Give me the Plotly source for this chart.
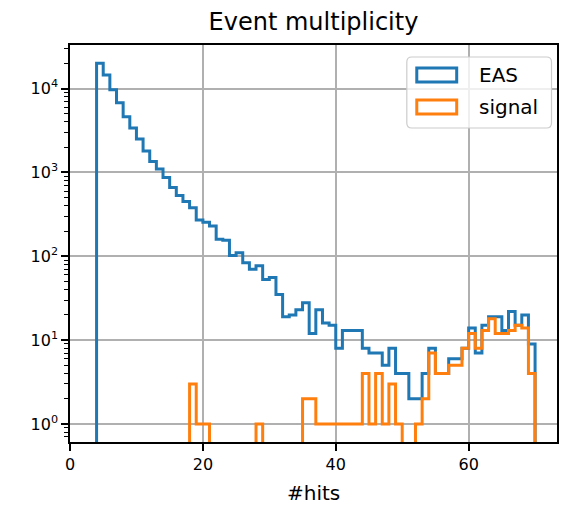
import plotly.graph_objects as go

# ---------------- data ----------------
bin_left = list(range(4, 70))          # histogram bins [k, k+1), k = 4..69
bin_width = 1

eas = [20000, 14500, 9700, 6800, 4600, 3400, 2500, 1800, 1350, 1100,   # 4-13
       870, 660, 530, 450, 380, 270, 255, 230, 160, 155,               # 14-23
       102, 110, 84, 70, 77, 53, 56, 35, 19, 20,                        # 24-33
       23, 28, 12, 23, 16, 15, 8, 13, 13, 13,                           # 34-43
       8, 7, 7, 5, 8, 4, 4, 2, 2, 4,                                    # 44-53
       8, 4, 4, 6, 6, 8, 14, 7, 15, 19,                                 # 54-63
       19, 13, 22, 15, 20, 9]                                           # 64-69

signal = [0, 0, 0, 0, 0, 0, 0, 0, 0, 0,        # 4-13
          0, 0, 0, 0, 3, 1, 1, 0, 0, 0,        # 14-23
          0, 0, 0, 0, 1, 0, 0, 0, 0, 0,        # 24-33
          0, 2, 2, 1, 1, 1, 1, 1, 1, 1,        # 34-43
          4, 1, 4, 1, 3, 1, 0, 0, 1, 2,        # 44-53
          7, 4, 4, 5, 5, 8, 12, 8, 13, 18,     # 54-63
          12, 12, 13, 15, 14, 4]               # 64-69

series_names = ["EAS", "signal"]
series_colors = ["#1f77b4", "#ff7f0e"]

x_ticks = [0, 20, 40, 60]
y_tick_vals = [1, 10, 100, 1000, 10000]
y_tick_text = ["10<sup>0</sup>", "10<sup>1</sup>", "10<sup>2</sup>", "10<sup>3</sup>", "10<sup>4</sup>"]

title_text = "Event multiplicity"
xlabel_text = "#hits"

# ---------------- layout geometry (pixels) ----------------
W, H = 563, 511
L, R, T, B = 69.5, 5.5, 45, 69
PW = W - L - R
PH = H - T - B
FLOOR = 1e-3  # empty bins drop below the axis


def px2paper(px, py):
    return (px - L) / PW, (H - B - py) / PH


def step_xy(lefts, width, vals):
    xs = [lefts[0]]
    ys = [FLOOR]
    for l, v in zip(lefts, vals):
        xs.append(l)
        ys.append(v if v > 0 else FLOOR)
    last = vals[-1] if vals[-1] > 0 else FLOOR
    xs += [lefts[-1] + width, lefts[-1] + width]
    ys += [last, FLOOR]
    return xs, ys


fig = go.Figure()
for name, vals, col in zip(series_names, [eas, signal], series_colors):
    xs, ys = step_xy(bin_left, bin_width, vals)
    fig.add_trace(go.Scatter(x=xs, y=ys, mode="lines", name=name,
                             line=dict(color=col, width=3, shape="hv"),
                             showlegend=False, hoverinfo="skip"))

minor_vals = [m * 10 ** e for e in range(-1, 5) for m in range(2, 10)]

font_family = "DejaVu Sans"
fig.update_layout(
    width=W, height=H,
    margin=dict(l=L, r=R, t=T, b=B, pad=0),
    paper_bgcolor="white", plot_bgcolor="white",
    font=dict(family=font_family, size=16, color="black"),
    title=dict(text=title_text, x=0.5, xref="paper", xanchor="center",
               y=1 - 22 / H, yref="container", yanchor="middle",
               font=dict(size=24, family=font_family, color="black")),
    xaxis=dict(range=[0, 73.3], tickvals=x_ticks, ticks="outside", ticklen=7,
               tickwidth=1.6, tickcolor="black", showgrid=True, gridcolor="#b0b0b0",
               gridwidth=1.6, showline=True, linecolor="black", linewidth=1.6,
               mirror=True, zeroline=False, tickfont=dict(size=16), automargin=False),
    yaxis=dict(type="log", range=[-0.215, 4.52], tickvals=y_tick_vals,
               ticktext=y_tick_text, ticks="outside", ticklen=7, tickwidth=1.6,
               tickcolor="black", showgrid=True, gridcolor="#b0b0b0", gridwidth=1.6,
               showline=True, linecolor="black", linewidth=1.6, mirror=True,
               zeroline=False, tickfont=dict(size=16), automargin=False,
               minor=dict(tickvals=minor_vals, ticks="outside", ticklen=4,
                          tickwidth=1.2, tickcolor="black", showgrid=False)),
)

# x-axis label
lx, ly = px2paper(0, 493)
fig.add_annotation(text=xlabel_text, xref="paper", yref="paper", x=0.5, y=ly,
                   xanchor="center", yanchor="middle", showarrow=False,
                   font=dict(size=20, family=font_family, color="black"))

# legend (matplotlib style, drawn manually)
bx0, by0, bx1, by1 = 407, 57, 552, 128
r = 5


def rounded_path(x0, y0, x1, y1, rad):
    def P(x, y):
        a, b = px2paper(x, y)
        return f"{a:.5f},{b:.5f}"
    return (f"M {P(x0 + rad, y0)} L {P(x1 - rad, y0)} Q {P(x1, y0)} {P(x1, y0 + rad)} "
            f"L {P(x1, y1 - rad)} Q {P(x1, y1)} {P(x1 - rad, y1)} "
            f"L {P(x0 + rad, y1)} Q {P(x0, y1)} {P(x0, y1 - rad)} "
            f"L {P(x0, y0 + rad)} Q {P(x0, y0)} {P(x0 + rad, y0)} Z")


fig.add_shape(type="path", xref="paper", yref="paper",
              path=rounded_path(bx0, by0, bx1, by1, r),
              line=dict(color="#cccccc", width=1.2),
              fillcolor="rgba(255,255,255,0.8)", layer="above")

for i, (name, col) in enumerate(zip(series_names, series_colors)):
    cy = 75 + i * 32
    x0, y0 = px2paper(417, cy - 7)
    x1, y1 = px2paper(457, cy + 7)
    fig.add_shape(type="rect", xref="paper", yref="paper", x0=x0, y0=y0, x1=x1, y1=y1,
                  line=dict(color=col, width=3), fillcolor="rgba(0,0,0,0)", layer="above")
    tx, ty = px2paper(477, cy)
    fig.add_annotation(text=name, xref="paper", yref="paper", x=tx, y=ty,
                       xanchor="left", yanchor="middle", showarrow=False,
                       font=dict(size=20, family=font_family, color="black"))

fig.write_html("out.html", config={"displayModeBar": False},
               post_script="document.body.style.margin='0';document.body.style.overflow='hidden';")
